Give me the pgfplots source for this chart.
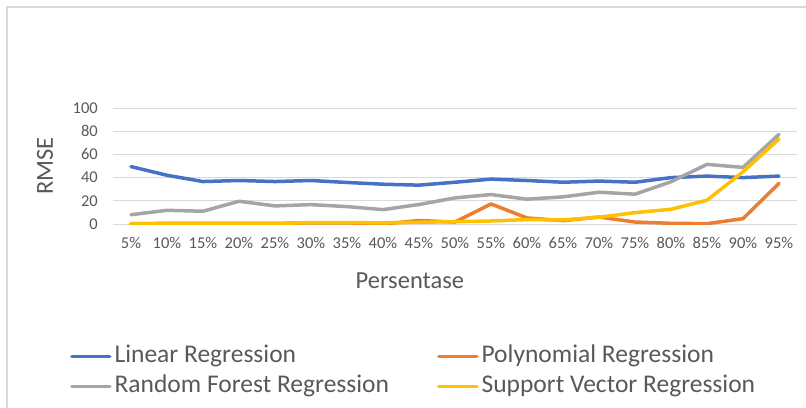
\documentclass[border=0pt]{standalone}
\usepackage{pgfplots}
\pgfplotsset{compat=1.18}
\usepackage{fontspec}
\setmainfont{Carlito}
\definecolor{cBlue}{HTML}{4472C4}
\definecolor{cOrange}{HTML}{ED7D31}
\definecolor{cGray}{HTML}{A5A5A5}
\definecolor{cYellow}{HTML}{FFC000}
\definecolor{cText}{HTML}{595959}
\definecolor{cGrid}{HTML}{D9D9D9}
\begin{document}
\begin{tikzpicture}
\path[use as bounding box] (0bp,0bp) rectangle (806bp,-408bp);
\draw[cGrid, line width=1.2bp] (7bp,-408bp) -- (7bp,-7bp) -- (806bp,-7bp);
\begin{axis}[
  at={(113bp,-224bp)}, anchor=south west,
  scale only axis, width=684bp, height=116bp,
  xmin=-0.5, xmax=18.5, ymin=0, ymax=100,
  xtick={0,...,18},
  xticklabels={5\%,10\%,15\%,20\%,25\%,30\%,35\%,40\%,45\%,50\%,55\%,60\%,65\%,70\%,75\%,80\%,85\%,90\%,95\%},
  ytick={0,20,40,60,80,100},
  axis x line*=bottom, axis y line*=left,
  x axis line style={cGrid, line width=1bp, -},
  y axis line style={draw=none},
  ymajorgrids, major grid style={cGrid, line width=1bp},
  major tick length=0pt,
  tick label style={font=\fontsize{16.5bp}{19bp}\selectfont, text=cText, inner sep=0pt},
  xticklabel style={anchor=north, yshift=-13bp},
  yticklabel style={anchor=east, xshift=-15bp},
  /pgf/number format/assume math mode=true,
  xlabel={Persentase}, ylabel={RMSE},
  label style={font=\fontsize{24.5bp}{28bp}\selectfont, text=cText, inner sep=0pt},
  xlabel style={at={(axis description cs:0.434,0)}, anchor=center, yshift=-57bp},
  ylabel style={at={(axis description cs:-0.0994,0.5)}, anchor=center},
  legend columns=2,
  legend cell align=left,
  legend style={at={(axis description cs:-0.063,-1.045)}, anchor=north west,
    draw=none, fill=none, inner sep=0pt,
    font=\fontsize{25.5bp}{29bp}\selectfont, text=cText,
    nodes={inner sep=0pt, text height=17bp, text depth=5bp},
    row sep=8bp,
    /tikz/every odd column/.append style={column sep=3bp},
    /tikz/every even column/.append style={column sep=48bp}},
  legend image code/.code={\draw[#1, line width=3.5bp] (0bp,0bp) -- (38bp,0bp);},
  every axis plot/.append style={line width=3.5bp, line join=round, line cap=round, mark=none},
]
\addplot[cBlue] coordinates {(0,49.5)(1,42)(2,36.6)(3,37.5)(4,36.6)(5,37.5)(6,35.8)(7,34.3)(8,33.5)(9,36)(10,38.7)(11,37.5)(12,36)(13,37)(14,36)(15,40)(16,41.3)(17,40)(18,41.3)};
\addlegendentry{Linear Regression}
\addplot[cOrange] coordinates {(0,0.3)(1,0.5)(2,0.5)(3,0.5)(4,0.5)(5,1)(6,1)(7,0)(8,3)(9,1.7)(10,17.3)(11,5.2)(12,2.9)(13,6)(14,1.7)(15,0.6)(16,0.3)(17,4.6)(18,35)};
\addlegendentry{Polynomial Regression}
\addplot[cGray] coordinates {(0,8)(1,11.8)(2,11)(3,19.6)(4,15.6)(5,16.7)(6,15)(7,12.4)(8,16.8)(9,22.5)(10,25.4)(11,21.4)(12,23.4)(13,27.4)(14,25.7)(15,36.4)(16,51.4)(17,48.8)(18,77.3)};
\addlegendentry{Random Forest Regression}
\addplot[cYellow] coordinates {(0,0)(1,0.5)(2,0.5)(3,0.5)(4,0.5)(5,1.2)(6,1.2)(7,1)(8,1.5)(9,2)(10,2.6)(11,3.8)(12,3.5)(13,5.8)(14,9.8)(15,12.7)(16,20.5)(17,45)(18,73.3)};
\addlegendentry{Support Vector Regression}
\end{axis}
\end{tikzpicture}
\end{document}
